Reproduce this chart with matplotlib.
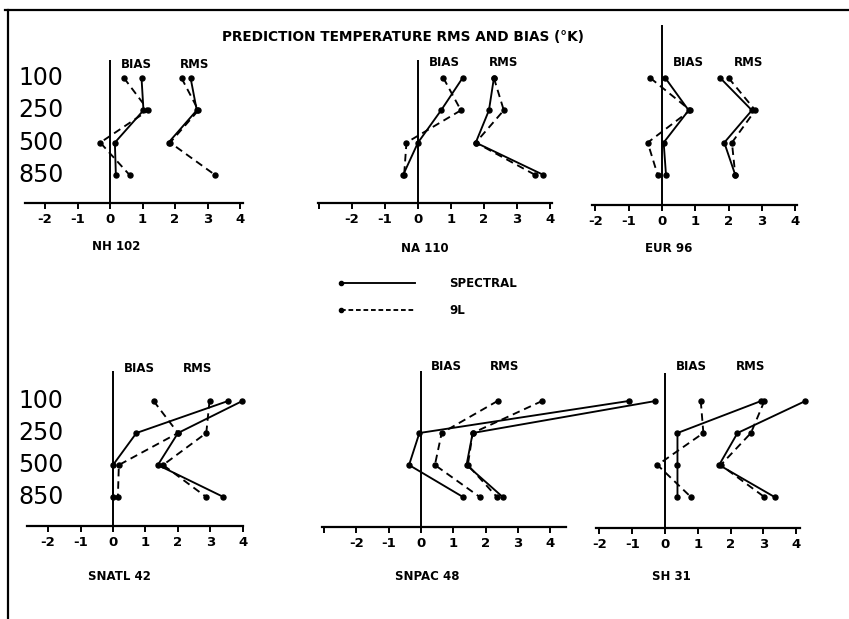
import matplotlib
matplotlib.use('Agg')
import matplotlib.pyplot as plt
from matplotlib.lines import Line2D
from matplotlib.legend_handler import HandlerLine2D
import numpy as np

W, H, DPI = 849, 619, 100

# ---------------- data ----------------
levels = ['100', '250', '500', '850']
panel_names = ['NH 102', 'NA 110', 'EUR 96', 'SNATL 42', 'SNPAC 48', 'SH 31']

nh_spec_bias = [0.97, 1.03, 0.15, 0.18]
nh_9l_bias = [0.43, 1.18, -0.30, 0.60]
nh_spec_rms = [2.48, 2.67, 1.80, np.nan]
nh_9l_rms = [2.20, 2.72, 1.85, 3.23]

na_spec_bias = [1.35, 0.70, 0.00, -0.45]
na_9l_bias = [0.77, 1.30, -0.35, -0.42]
na_spec_rms = [2.30, 2.15, 1.75, 3.80]
na_9l_rms = [2.30, 2.60, 1.75, 3.55]

eur_spec_bias = [0.10, 0.80, 0.05, 0.12]
eur_9l_bias = [-0.35, 0.85, -0.43, -0.13]
eur_spec_rms = [1.75, 2.70, 1.87, 2.20]
eur_9l_rms = [2.00, 2.80, 2.10, 2.20]

snatl_spec_bias = [3.54, 0.72, 0.00, 0.00]
snatl_9l_bias = [1.25, 2.00, 0.18, 0.15]
snatl_spec_rms = [3.98, 2.00, 1.38, 3.40]
snatl_9l_rms = [2.97, 2.87, 1.54, 2.87]

snpac_spec_bias = [6.43, -0.05, -0.37, 1.30]
snpac_9l_bias = [2.37, 0.64, 0.43, 1.82]
snpac_spec_rms = [7.26, 1.60, 1.41, 2.53]
snpac_9l_rms = [3.75, 1.60, 1.45, 2.35]

sh_spec_bias = [2.93, 0.38, 0.38, 0.38]
sh_9l_bias = [1.09, 1.17, -0.23, 0.79]
sh_spec_rms = [4.28, 2.21, 1.65, 3.34]
sh_9l_rms = [3.03, 2.62, 1.70, 3.03]

ticks_a = [-2, -1, 0, 1, 2, 3, 4]
ticklabels_a = ['-2', '-1', '0', '1', '2', '3', '4']
ticks_b = [-3, -2, -1, 0, 1, 2, 3, 4]
ticklabels_b = ['', '-2', '-1', '0', '1', '2', '3', '4']

series = [
    (nh_spec_bias, nh_9l_bias, nh_spec_rms, nh_9l_rms),
    (na_spec_bias, na_9l_bias, na_spec_rms, na_9l_rms),
    (eur_spec_bias, eur_9l_bias, eur_spec_rms, eur_9l_rms),
    (snatl_spec_bias, snatl_9l_bias, snatl_spec_rms, snatl_9l_rms),
    (snpac_spec_bias, snpac_9l_bias, snpac_spec_rms, snpac_9l_rms),
    (sh_spec_bias, sh_9l_bias, sh_spec_rms, sh_9l_rms),
]

# ---------------- layout (pixels) ----------------
# x0, x1, zero_px, px_per_unit, y_top, y_axis, level0_px, level_spacing, ticks, labels, show_levels
layout = [
    (25, 243, 110, 32.5, 60, 203, 78, 32.3, ticks_a, ticklabels_a, True),
    (318, 552, 418, 33.0, 60, 203, 78, 32.3, ticks_b, ticklabels_b, False),
    (592, 797, 662, 33.3, 25, 205, 78, 32.3, ticks_a, ticklabels_a, False),
    (27, 243, 113, 32.5, 371, 526, 401, 32.0, ticks_a, ticklabels_a, True),
    (322, 566, 421, 32.3, 371, 527, 401, 32.0, ticks_b, ticklabels_b, False),
    (596, 800, 665, 32.8, 373, 528, 401, 32.0, ticks_a, ticklabels_a, False),
]
bias_y = [65, 63, 62, 369, 367, 366]
label_y = [247, 248, 248, 577, 577, 577]

plt.rcParams['font.family'] = ['DejaVu Sans']
fig = plt.figure(figsize=(W / DPI, H / DPI), dpi=DPI)
fig.patch.set_facecolor('white')

LW = 1.35
MS = 3.6
DASH = (0, (4.0, 2.6))

yl = np.arange(len(levels))
for k, (lay, ser) in enumerate(zip(layout, series)):
    x0, x1, z, ppu, yt, ya, l0, sp, tks, tkl, show_lv = lay
    ax = fig.add_axes([x0 / W, 1 - ya / H, (x1 - x0) / W, (ya - yt) / H])
    ax.set_xlim((x0 - z) / ppu, (x1 - z) / ppu)
    ax.set_ylim((ya - l0) / sp, (yt - l0) / sp)
    ax.patch.set_alpha(0)
    for s in ['top', 'right', 'left']:
        ax.spines[s].set_visible(False)
    ax.spines['bottom'].set_linewidth(1.6)
    ax.set_yticks([])
    ax.set_xticks(tks)
    ax.set_xticklabels(tkl, fontsize=9.5, fontweight='bold')
    ax.tick_params(axis='x', direction='out', length=4, width=1.4, pad=3)
    ax.axvline(0, color='k', lw=1.4, zorder=1)

    sb, lb, sr, lr = ser
    ax.plot(sb, yl, color='k', lw=LW, marker='o', ms=MS, clip_on=False, zorder=3)
    ax.plot(lb, yl, color='k', lw=LW, ls=DASH, marker='o', ms=MS, clip_on=False, zorder=3)
    ax.plot(sr, yl, color='k', lw=LW, marker='o', ms=MS, clip_on=False, zorder=3)
    ax.plot(lr, yl, color='k', lw=LW, ls=DASH, marker='o', ms=MS, clip_on=False, zorder=3)

    by = (bias_y[k] - l0) / sp
    ax.text(0.8, by, 'BIAS', ha='center', va='center', fontsize=8.5, fontweight='bold')
    ax.text(2.6, by, 'RMS', ha='center', va='center', fontsize=8.5, fontweight='bold')
    ax.text(0.2, (label_y[k] - l0) / sp, panel_names[k], ha='center', va='center',
            fontsize=8.5, fontweight='bold')
    if show_lv:
        for i, lv in enumerate(levels):
            ax.text((18 - z) / ppu, i, lv, ha='left', va='center', fontsize=17)

fig.text(403 / W, 1 - 37 / H, 'PREDICTION TEMPERATURE RMS AND BIAS (\u00b0K)',
         ha='center', va='center', fontsize=9.8, fontweight='bold')


class LeftDotHandler(HandlerLine2D):
    def create_artists(self, legend, orig_handle, xdescent, ydescent, width,
                       height, fontsize, trans):
        arts = super().create_artists(legend, orig_handle, xdescent, ydescent,
                                      width, height, fontsize, trans)
        for a in arts:
            a.set_markevery([0])
        return arts


# legend
h1 = Line2D([], [], color='k', lw=LW, marker='o', ms=3)
h2 = Line2D([], [], color='k', lw=LW, ls=(0, (2.5, 1.5)), marker='o', ms=3)
fig.legend([h1, h2], ['SPECTRAL', '9L'], loc='center left',
           bbox_to_anchor=(337 / W, 1 - 297 / H), frameon=False,
           handlelength=6.9, handletextpad=2.6, labelspacing=1.15, borderpad=0,
           borderaxespad=0, prop={'weight': 'bold', 'size': 8.5},
           handler_map={Line2D: LeftDotHandler(numpoints=2)})

# frame lines
fig.add_artist(Line2D([5 / W, 1], [1 - 10 / H, 1 - 10 / H], transform=fig.transFigure,
                      color='k', lw=1.6))
fig.add_artist(Line2D([8 / W, 8 / W], [0, 1 - 10 / H], transform=fig.transFigure,
                      color='k', lw=1.6))

fig.savefig('out.png', dpi=DPI, facecolor='white')
